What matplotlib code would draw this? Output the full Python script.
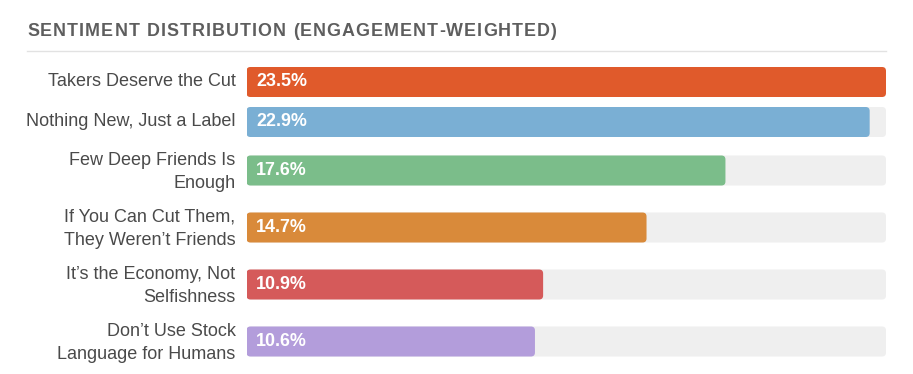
import matplotlib
matplotlib.use("Agg")
import matplotlib.pyplot as plt
from matplotlib.patches import FancyBboxPatch

categories = [
    "Takers Deserve the Cut",
    "Nothing New, Just a Label",
    "Few Deep Friends Is\nEnough",
    "If You Can Cut Them,\nThey Weren\u2019t Friends",
    "It\u2019s the Economy, Not\nSelfishness",
    "Don\u2019t Use Stock\nLanguage for Humans",
]
values = [23.5, 22.9, 17.6, 14.7, 10.9, 10.6]
value_labels = ["23.5%", "22.9%", "17.6%", "14.7%", "10.9%", "10.6%"]
colors = ["#E05A2B", "#7AAFD4", "#7BBD8A", "#D98A3A", "#D55A5A", "#B39DDB"]
title = "SENTIMENT DISTRIBUTION (ENGAGEMENT-WEIGHTED)"

plt.rcParams['font.family'] = ['Liberation Sans', 'DejaVu Sans']

W, H = 913, 374
DPI = 100
fig = plt.figure(figsize=(W / DPI, H / DPI), dpi=DPI)
fig.patch.set_facecolor("white")

# layout (pixels)
left_px, right_px = 246.5, 886
top_px = 67
bar_h = 30
gap = 10
row_h = [bar_h if "\n" not in c else 47 for c in categories]
tops = []
t = 0
for h in row_h:
    tops.append(t)
    t += h + gap
total = t - gap
centers = [tp + h / 2 for tp, h in zip(tops, row_h)]

ax = fig.add_axes([left_px / W, (H - top_px - total) / H,
                   (right_px - left_px) / W, total / H])
xmax = max(values)
ax.set_xlim(0, xmax)
ax.set_ylim(total, 0)
ax.axis("off")

px_x = xmax / (right_px - left_px)  # data units per pixel in x
radius_px = 4
for c, v, col, lab, cat in zip(centers, values, colors, value_labels, categories):
    track = FancyBboxPatch((0, c - bar_h / 2), xmax, bar_h,
                           boxstyle=f"round,pad=0,rounding_size={radius_px * px_x}",
                           mutation_aspect=1 / px_x, fc="#EFEFEF", ec="none")
    ax.add_patch(track)
    bar = FancyBboxPatch((0, c - bar_h / 2), v, bar_h,
                         boxstyle=f"round,pad=0,rounding_size={radius_px * px_x}",
                         mutation_aspect=1 / px_x, fc=col, ec="none")
    ax.add_patch(bar)
    ax.annotate(lab, xy=(0, c), xycoords=("data", "data"), xytext=(9.5, 0),
                textcoords="offset pixels", ha="left", va="center",
                color="white", fontsize=12.9, fontweight="bold")
    ax.annotate(cat, xy=(0, c + (1.5 if "\n" in cat else 0)), xycoords=("data", "data"),
                xytext=(-11, 0),
                textcoords="offset pixels", ha="right", va="center",
                color="#4A4A4A", fontsize=13, linespacing=1.5,
                multialignment="right")

# title with letter spacing
fig.canvas.draw()
renderer = fig.canvas.get_renderer()
title_left, title_right = 27, 557
title_base = H - 36
fs = 12.9
widths = []
tmp = []
for ch in title:
    tt = fig.text(0, 0, ch if ch != " " else "\u00a0", fontsize=fs, fontweight="bold")
    tmp.append(tt)
for tt in tmp:
    widths.append(tt.get_window_extent(renderer).width)
    tt.remove()
spacing = (title_right - title_left - sum(widths)) / (len(title) - 1)
x = title_left
for ch, w in zip(title, widths):
    if ch != " ":
        fig.text(x / W, title_base / H, ch, fontsize=fs, fontweight="bold",
                 color="#5E5E5E", ha="left", va="baseline")
    x += w + spacing

# divider line
fig.add_artist(plt.Line2D([27 / W, 886 / W], [(H - 50.5) / H] * 2,
                          transform=fig.transFigure, color="#E2E2E2", lw=1))

fig.savefig("out.png", dpi=DPI, facecolor="white")
